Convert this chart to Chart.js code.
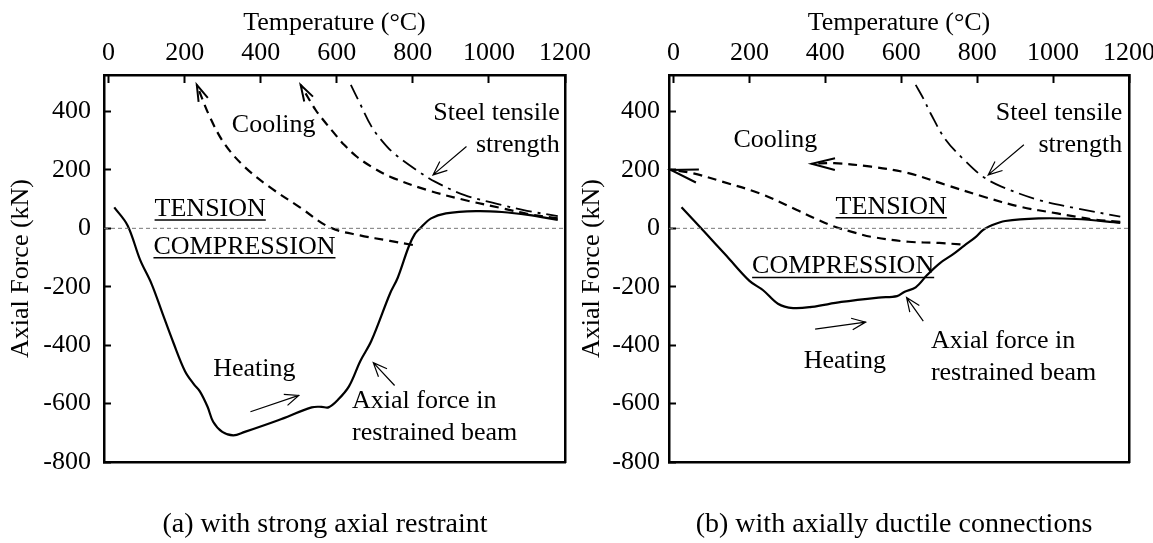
<!DOCTYPE html>
<html>
<head>
<meta charset="utf-8">
<script src="https://cdn.jsdelivr.net/npm/chart.js@4.4.1/dist/chart.umd.min.js"></script>
<style>
    html, body { margin: 0; padding: 0; background: #fff; }
    #wrap { position: relative; width: 1153px; height: 543px; }
    canvas { position: absolute; left: 0; top: 0; }
    .cap { position: absolute; font-family: "Liberation Serif", "Times New Roman", serif; font-size: 28px; line-height: 34px; color: #000; white-space: nowrap; transform: translateX(-50%); }
</style>
</head>
<body>
<div id="wrap">
    <canvas id="chartA" width="1153" height="543"></canvas>
    <canvas id="chartB" width="1153" height="543"></canvas>
    <div class="cap" style="left:325px; top:506px">(a) with strong axial restraint</div>
    <div class="cap" style="left:894px; top:506px">(b) with axially ductile connections</div>
</div>
<script>
// Trục chung
const xTicks = [0, 200, 400, 600, 800, 1000, 1200];
const yTicks = [-800, -600, -400, -200, 0, 200, 400];

// (a) liên kết dọc trục cứng
const aHeatT = [15, 50, 83, 113, 142, 170, 201, 225, 240, 260, 275, 299, 328, 358, 446, 534, 560, 578, 603, 632, 662, 691, 740, 760, 789, 805, 819, 848, 887, 966, 1034, 1103, 1181];
const aHeatF = [72, 10, -108, -190, -292, -390, -489, -535, -558, -610, -662, -697, -709, -697, -657, -613, -611, -613, -587, -541, -454, -385, -223, -170, -63, -20, 0, 34, 51, 59, 56, 46, 29];
const aCool1T = [800, 740, 661, 582, 503, 424, 358, 305, 266, 232];
const aCool1F = [-57, -43, -24, 3, 72, 141, 210, 289, 382, 491];
const aCool2T = [1181, 1100, 1034, 936, 838, 740, 690, 652, 620, 593, 565, 544, 505];
const aCool2F = [34, 50, 69, 97, 131, 177, 212, 246, 285, 326, 370, 406, 491];
const aSteelT = [637, 660, 691, 720, 750, 809, 858, 936, 1034, 1100, 1181];
const aSteelF = [491, 430, 349, 298, 257, 200, 160, 114, 80, 60, 42];

// (b) liên kết dẻo dọc trục
const bHeatT = [21, 80, 140, 200, 236, 275, 315, 364, 442, 540, 589, 609, 638, 668, 702, 735, 766, 795, 815, 834, 874, 962, 1060, 1177];
const bHeatF = [72, -10, -95, -180, -212, -258, -273, -269, -252, -237, -232, -217, -202, -160, -119, -90, -59, -31, -6, 8, 25, 34, 32, 19];
const bCool1T = [756, 700, 619, 521, 470, 423, 370, 325, 226, 128, 50, -7];
const bCool1F = [-55, -50, -46, -29, -12, 6, 35, 63, 120, 160, 189, 200];
const bCool2T = [1177, 1109, 1060, 1011, 913, 815, 717, 619, 521, 423, 364];
const bCool2F = [22, 30, 40, 51, 74, 109, 149, 189, 211, 223, 221];
const bSteelT = [638, 660, 677, 717, 766, 815, 864, 962, 1060, 1177];
const bSteelF = [491, 440, 394, 303, 234, 177, 143, 97, 69, 40];

const serif = { family: 'Liberation Serif', size: 26 };

function pts(xs, ys) {
    return xs.map((v, i) => ({ x: v, y: ys[i] }));
}

// Vẽ chữ chú thích và mũi tên theo toạ độ dữ liệu
const notesPlugin = {
    id: 'notes',
    afterDatasetsDraw(chart, args, opts) {
        const { ctx } = chart;
        const sx = chart.scales.x, sy = chart.scales.y;
        ctx.save();
        ctx.fillStyle = '#000';
        ctx.strokeStyle = '#000';
        ctx.font = '26px "Liberation Serif"';
        ctx.textBaseline = 'middle';
        (opts.texts || []).forEach(n => {
            const px = sx.getPixelForValue(n.x), py = sy.getPixelForValue(n.y);
            ctx.textAlign = n.align || 'left';
            ctx.fillText(n.text, px, py);
            if (n.underline) {
                const w = ctx.measureText(n.text).width;
                ctx.lineWidth = 1.5;
                ctx.beginPath();
                ctx.moveTo(px, py + 11);
                ctx.lineTo(px + w, py + 11);
                ctx.stroke();
            }
        });
        (opts.arrows || []).forEach(a => {
            const x0 = sx.getPixelForValue(a.from[0]), y0 = sy.getPixelForValue(a.from[1]);
            const x1 = sx.getPixelForValue(a.to[0]), y1 = sy.getPixelForValue(a.to[1]);
            const ang = Math.atan2(y1 - y0, x1 - x0);
            const len = a.head || 15, spread = a.spread || 0.4;
            ctx.lineWidth = a.width || 1.2;
            ctx.beginPath();
            if (a.shaft !== false) {
                ctx.moveTo(x0, y0);
                ctx.lineTo(x1, y1);
            }
            ctx.moveTo(x1 - len * Math.cos(ang - spread), y1 - len * Math.sin(ang - spread));
            ctx.lineTo(x1, y1);
            ctx.lineTo(x1 - len * Math.cos(ang + spread), y1 - len * Math.sin(ang + spread));
            ctx.stroke();
        });
        ctx.restore();
    }
};

function buildScales(yWidth, yPad) {
    return {
        x: {
            type: 'linear', position: 'top', min: -12, max: 1200,
            afterBuildTicks: s => { s.ticks = xTicks.map(v => ({ value: v })); },
            afterFit: s => { s.height = 75; s.paddingLeft = 0; s.paddingRight = 0; },
            ticks: { font: serif, color: '#000', padding: 14, maxRotation: 0, autoSkip: false, callback: v => String(v) },
            grid: { drawOnChartArea: false, tickLength: -8, tickWidth: 2, tickColor: '#000' },
            border: { color: '#000', width: 2.5 },
            title: { display: true, text: 'Temperature (°C)', font: serif, color: '#000', padding: { top: 8, bottom: 0 } }
        },
        y: {
            type: 'linear', position: 'left', min: -800, max: 525,
            afterBuildTicks: s => { s.ticks = yTicks.map(v => ({ value: v })); },
            afterFit: s => { s.width = yWidth; s.paddingTop = 0; s.paddingBottom = 0; },
            ticks: { font: serif, color: '#000', padding: yPad, autoSkip: false, callback: v => String(v) },
            grid: { drawOnChartArea: false, tickLength: -7, tickWidth: 2, tickColor: '#000' },
            border: { color: '#000', width: 2.5 },
            title: { display: true, text: 'Axial Force (kN)', font: serif, color: '#000', padding: { top: 6, bottom: 0 } }
        },
        x2: {
            type: 'linear', position: 'bottom', min: -12, max: 1200,
            ticks: { display: false }, grid: { display: false },
            border: { color: '#000', width: 2.5 },
            afterFit: s => { s.height = 0; s.paddingLeft = 0; s.paddingRight = 0; }
        },
        y2: {
            type: 'linear', position: 'right', min: -800, max: 525,
            ticks: { display: false }, grid: { display: false },
            border: { color: '#000', width: 2.5 },
            afterFit: s => { s.width = 0; s.paddingTop = 0; s.paddingBottom = 0; }
        }
    };
}

function buildDatasets(heat, cool1, cool2, steel) {
    const line = { borderColor: '#000', pointRadius: 0, fill: false, tension: 0.35 };
    return [
        { label: 'zero', data: pts([-12, 1200], [0, 0]), borderWidth: 1, borderColor: '#777', borderDash: [4, 3], pointRadius: 0, tension: 0 },
        Object.assign({}, line, { label: 'Axial force', data: heat, borderWidth: 2.2 }),
        Object.assign({}, line, { label: 'Cooling 1', data: cool1, borderWidth: 2.2, borderDash: [9, 6] }),
        Object.assign({}, line, { label: 'Cooling 2', data: cool2, borderWidth: 2.2, borderDash: [9, 6] }),
        Object.assign({}, line, { label: 'Steel tensile strength', data: steel, borderWidth: 1.8, borderDash: [16, 6, 3, 6] })
    ];
}

const chartA = new Chart(document.getElementById('chartA'), {
    type: 'line',
    data: {
        datasets: buildDatasets(pts(aHeatT, aHeatF), pts(aCool1T, aCool1F), pts(aCool2T, aCool2F), pts(aSteelT, aSteelF))
    },
    options: {
        responsive: false, animation: false, events: [],
        layout: { padding: { left: 0, right: 588, top: 0, bottom: 81 } },
        scales: buildScales(104, 20),
        plugins: {
            legend: { display: false }, tooltip: { enabled: false },
            notes: {
                texts: [
                    { text: 'Cooling', x: 324, y: 352 },
                    { text: 'Steel tensile', x: 1186, y: 394, align: 'right' },
                    { text: 'strength', x: 1186, y: 286, align: 'right' },
                    { text: 'TENSION', x: 121, y: 66, underline: true },
                    { text: 'COMPRESSION', x: 118, y: -63, underline: true },
                    { text: 'Heating', x: 275, y: -483 },
                    { text: 'Axial force in', x: 640, y: -593 },
                    { text: 'restrained beam', x: 640, y: -703 }
                ],
                arrows: [
                    { from: [262, 400], to: [232, 491], shaft: false, width: 2, head: 17, spread: 0.3 },
                    { from: [540, 410], to: [505, 491], shaft: false, width: 2, head: 17, spread: 0.3 },
                    { from: [941, 280], to: [853, 183] },
                    { from: [373, -628], to: [500, -572] },
                    { from: [752, -538], to: [696, -460] }
                ]
            }
        }
    },
    plugins: [notesPlugin]
});

const chartB = new Chart(document.getElementById('chartB'), {
    type: 'line',
    data: {
        datasets: buildDatasets(pts(bHeatT, bHeatF), pts(bCool1T, bCool1F), pts(bCool2T, bCool2F), pts(bSteelT, bSteelF))
    },
    options: {
        responsive: false, animation: false, events: [],
        layout: { padding: { left: 571, right: 24, top: 0, bottom: 81 } },
        scales: buildScales(98, 16),
        plugins: {
            legend: { display: false }, tooltip: { enabled: false },
            notes: {
                texts: [
                    { text: 'Cooling', x: 158, y: 303 },
                    { text: 'Steel tensile', x: 1182, y: 394, align: 'right' },
                    { text: 'strength', x: 1182, y: 286, align: 'right' },
                    { text: 'TENSION', x: 427, y: 74, underline: true },
                    { text: 'COMPRESSION', x: 207, y: -131, underline: true },
                    { text: 'Heating', x: 343, y: -454 },
                    { text: 'Axial force in', x: 678, y: -385 },
                    { text: 'restrained beam', x: 678, y: -495 }
                ],
                arrows: [
                    { from: [60, 180], to: [-7, 200], shaft: false, width: 2, head: 28, spread: 0.24 },
                    { from: [420, 220], to: [364, 221], shaft: false, width: 2, head: 24, spread: 0.25 },
                    { from: [923, 286], to: [829, 183] },
                    { from: [373, -345], to: [506, -321] },
                    { from: [658, -318], to: [614, -237] }
                ]
            }
        }
    },
    plugins: [notesPlugin]
});
</script>
</body>
</html>
